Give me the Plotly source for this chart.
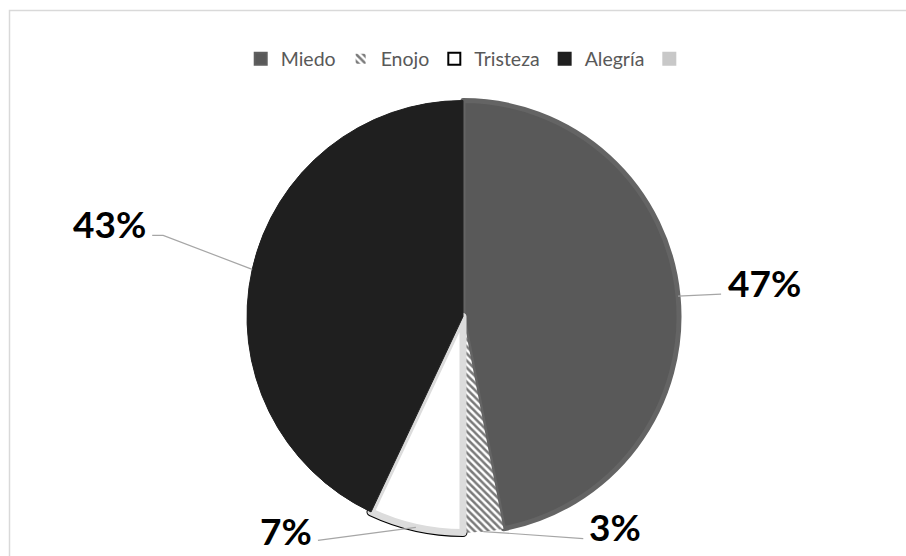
import math
import plotly.graph_objects as go

# Emotion shares (percent)
labels = ["Miedo", "Enojo", "Tristeza", "Alegría", " "]
values = [47, 3, 7, 43, 0]
fill_colors = ["#595959", "#ffffff", "#ffffff", "#1f1f1f", "#c8c8c8"]
pct_text = ["47%", "3%", "7%", "43%"]

W, H = 906, 556
# pie domain in pixels (left, right, top, bottom)
PX0, PX1, PY0, PY1 = 247, 679, 100, 533
cx, cy = (PX0 + PX1) / 2, (PY0 + PY1) / 2
R = min(PX1 - PX0, PY1 - PY0) / 2


def to_paper(px, py):
    return px / W, 1 - py / H


domain = dict(x=[PX0 / W, PX1 / W], y=[1 - PY1 / H, 1 - PY0 / H])
pattern = dict(shape=["", "\\", "", "", ""], fgcolor="#7a7a7a", bgcolor="#ffffff",
               size=5, solidity=0.5)

common = dict(labels=labels, values=values, sort=False, direction="clockwise",
              rotation=0, textinfo="none", domain=domain, hoverinfo="label+percent")

fig = go.Figure()
# base layer: black outline on Tristeza, also drives the legend
fig.add_trace(go.Pie(
    **common,
    marker=dict(colors=fill_colors, pattern=pattern,
                line=dict(color=["#5f5f5f", "#ffffff", "#000000", "#1f1f1f", "#c8c8c8"],
                          width=[0, 0, 3, 0, 0])),
    showlegend=True,
))
# outer black rim for Tristeza (drawn wide, mostly covered by the top layer)
fig.add_trace(go.Pie(
    **common,
    marker=dict(colors=["rgba(0,0,0,0)"] * 5,
                line=dict(color=["rgba(0,0,0,0)", "rgba(0,0,0,0)", "#000000",
                                 "rgba(0,0,0,0)", "rgba(0,0,0,0)"],
                          width=[0, 0, 9, 0, 0])),
    showlegend=False,
))
# top layer: light inner band on Tristeza and Miedo
fig.add_trace(go.Pie(
    **common,
    marker=dict(colors=fill_colors, pattern=pattern,
                line=dict(color=["#646464", "#ffffff", "#dcdcdc", "#222222", "#c8c8c8"],
                          width=[5, 0, 7, 1, 0])),
    showlegend=False,
))

# leader-line geometry (pixel offsets from each slice's outer mid point)
# each entry: list of path points, label gap, label vertical shift
leaders = [
    dict(pts=[(43, -2)], gap=5, yshift=12),                 # Miedo
    dict(pts=[(100, 7)], gap=4, yshift=12),                 # Enojo
    dict(pts=[(-98, 13)], gap=4, yshift=10),                # Tristeza
    dict(pts=[(-89, -34), (-100, -34)], gap=4, yshift=12),  # Alegría
]

annotations = []
shapes = []
total = sum(values)
cum = 0
for i, txt in enumerate(pct_text):
    mid = (cum + values[i] / 2) / total * 2 * math.pi
    cum += values[i]
    ex = cx + R * math.sin(mid)
    ey = cy - R * math.cos(mid)
    pts = [(ex, ey)] + [(ex + dx, ey + dy) for dx, dy in leaders[i]["pts"]]
    path = "M " + " L ".join("%.4f,%.4f" % to_paper(px, py) for px, py in pts)
    shapes.append(dict(type="path", xref="paper", yref="paper", path=path,
                       line=dict(color="#a6a6a6", width=1.2)))
    lx, ly = pts[-1]
    right = lx > ex
    ax, ay = to_paper(lx, ly)
    annotations.append(dict(
        x=ax, y=ay, xref="paper", yref="paper", text="<b>%s</b>" % txt, showarrow=False,
        xanchor="left" if right else "right", yanchor="middle",
        xshift=leaders[i]["gap"] if right else -leaders[i]["gap"],
        yshift=leaders[i]["yshift"],
        font=dict(family="Lato", size=37, color="#000000"),
    ))

# chart area frame
shapes.append(dict(type="rect", xref="paper", yref="paper",
                   x0=9.5 / W, x1=1.02, y0=-0.02, y1=1 - 10.5 / H,
                   line=dict(color="#d9d9d9", width=1.5)))

fig.update_layout(
    width=W, height=H,
    margin=dict(l=0, r=0, t=0, b=0),
    paper_bgcolor="#ffffff", plot_bgcolor="#ffffff",
    shapes=shapes, annotations=annotations,
    legend=dict(orientation="h", x=0.519, xanchor="center", y=1 - 59 / H, yanchor="middle",
                font=dict(family="Lato", size=19.5, color="#595959"),
                itemsizing="constant", traceorder="normal"),
)

fig.write_html("out.html")
